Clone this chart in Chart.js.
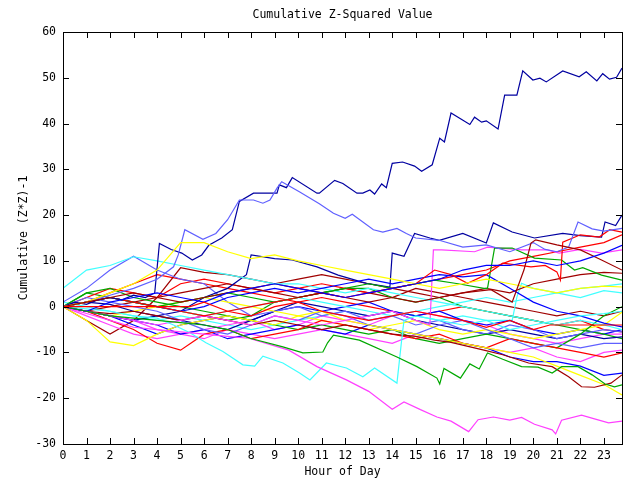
<!DOCTYPE html>
<html>
<head>
<meta charset="utf-8">
<script src="https://cdn.jsdelivr.net/npm/chart.js@4.4.1/dist/chart.umd.min.js"></script>
<style>
  html, body { margin: 0; padding: 0; background: #fff; }
</style>
</head>
<body>
<canvas id="zChart" width="640" height="480"></canvas>
<script>
// Hour grid used by the plainer series
const HOURS = [0,1,2,3,4,5,6,7,8,9,10,11,12,13,14,15,16,17,18,19,20,21,22,23,23.77];

// Series read with their own hour stamps ([hour, value])
const navyPeak = [[0,0],[0.5,1],[1,0.5],[1.5,1.5],[2,2],[2.5,1.5],[3,2.5],[3.5,2],[3.9,3],[4.1,13.8],[4.6,12.5],[5.05,11.7],[5.5,10.2],[5.9,11.3],[6.2,13.4],[6.75,15],[7.2,16.8],[7.5,23],[8.1,24.8],[9.1,24.8],[9.2,26.6],[9.5,26],[9.75,28.2],[10.8,24.8],[10.9,24.8],[11.55,27.6],[11.9,26.9],[12.5,24.8],[12.75,24.8],[13.05,25.5],[13.25,24.6],[13.55,26.8],[13.75,26],[14.0,31.3],[14.44,31.6],[14.95,30.7],[15.25,29.6],[15.7,31],[16.02,36.8],[16.22,36],[16.5,42.3],[17.3,39.8],[17.5,41.4],[17.8,40.3],[18.0,40.6],[18.5,38.8],[18.78,46.2],[19.3,46.2],[19.55,51.5],[19.98,49.5],[20.28,49.9],[20.55,49.1],[21.25,51.5],[21.95,50.2],[22.25,51.3],[22.7,49.3],[22.95,50.9],[23.24,49.7],[23.54,50.1],[23.77,52.1]];
const slatePeak = [[0,0],[1,1],[2,2.5],[3,4],[4,6],[4.7,8.7],[4.9,11.3],[5.18,16.8],[5.95,14.7],[6.5,16],[7,19],[7.5,23.3],[8.1,23.3],[8.5,22.6],[8.8,23.3],[9.1,25.9],[9.3,27.3],[10.05,25.1],[10.9,22.5],[11.5,20.4],[12.0,19.3],[12.3,20.2],[13.2,16.8],[13.6,16.3],[14.2,17.1],[14.6,16],[15,15],[16,14.5],[17,13],[18,13.5],[19,12],[20,14],[20.5,12.5],[21,12],[21.5,13],[21.9,18.5],[22.5,17],[23,16.5],[23.77,17.1]];
const navyMid = [[0,0],[1,-1],[2,-2],[3,-3],[4,-2],[5,-1],[6,2],[7,4],[7.8,7],[8,11.3],[9,10.5],[9.75,10.2],[10.8,8.7],[11.7,6.9],[12.9,5.1],[13.9,4.3],[14,11.7],[14.5,11],[14.95,16],[15.6,15],[16,14.5],[17,16],[18,13.9],[18.3,18.3],[19.1,16.3],[20.05,15],[21.25,16],[22,15.5],[22.9,15.2],[23.05,18.5],[23.5,17.7],[23.77,20]];
const magentaLow = [[0,0],[1,-1.5],[2,-3],[3,-4.5],[4,-5],[5,-5.5],[6,-6],[7,-6.5],[7.9,-6.9],[9.6,-9.5],[10.8,-13.1],[12.05,-16],[13,-18.5],[14,-22.4],[14.5,-20.8],[15.2,-22.5],[15.9,-24.1],[16.5,-25],[17.25,-27.3],[17.65,-24.7],[18.3,-24.1],[19,-24.8],[19.5,-24.2],[20.05,-25.7],[20.8,-26.9],[20.95,-27.8],[21.2,-24.8],[22.05,-23.7],[22.6,-24.5],[23.2,-25.4],[23.77,-25]];
const magentaJump = [[0,0],[1,-1],[2,-2],[3,-3],[4,-4],[5,-3],[6,-2],[7,-3],[8,-4],[9,-2],[10,-3],[11,-4],[12,-3],[13,-2],[14,-1],[15,-3],[15.6,-4],[15.75,12.4],[16.1,12.4],[17.5,12],[18.05,13],[19.5,12.4],[20.6,12.4],[21.1,11.7],[22,12.5],[22.9,11.7],[23.77,12.4]];
const cyanLow = [[0,0],[1,-0.5],[2,-1],[3,-2],[4,-2.5],[4.7,-4],[5.4,-5.7],[6.08,-7.9],[6.8,-9.8],[7.65,-12.7],[8.15,-13],[8.5,-10.8],[9.35,-12.3],[10.06,-14.5],[10.5,-16],[11.2,-12.3],[12.05,-13.4],[12.75,-15.3],[13.25,-13.4],[14.2,-16.7],[14.4,-7.3],[14.5,-3],[15,-2],[16,-3],[17,-4],[18,-3],[19,-5],[20,-4],[21,-3],[22,-2],[23,-1.5],[23.77,-1]];
const cyanJump = [[0,1],[1,0],[2,-1],[3,-2],[4,-3],[5,-2],[6,-3],[7,-4],[8,-5],[9,-4],[10,-3],[11,-2],[12,-1],[13,-2],[14,-1],[15,-2],[16,-3],[17,-2],[18,-3],[19.1,-3],[19.3,2.1],[19.5,5.1],[20,4],[21,3],[22,2],[23,3.5],[23.77,3]];
const greenLow = [[0,0],[1,-1],[2,-2],[3,-2.5],[4,-3],[5,-3.5],[6,-4],[7,-5],[7.95,-6.9],[9.35,-8.8],[10.2,-10.1],[11.05,-9.9],[11.25,-7.9],[11.5,-6.2],[12.6,-7.3],[14.2,-11],[15.05,-13.1],[15.9,-15.6],[16.02,-16.9],[16.2,-13.5],[16.9,-15.6],[17.3,-12.5],[17.7,-13.6],[18.05,-10.1],[18.7,-11.5],[19.5,-13.1],[20.2,-13.2],[20.8,-14.5],[21.2,-13.1],[21.9,-13.1],[22.5,-14.9],[23.05,-16.9],[23.45,-17.5],[23.77,-17.1]];
const greenJump = [[0,0],[1,1],[2,2],[3,1],[4,0],[5,1],[6,2],[7,3],[8,2],[9,1],[10,2],[11,3],[12,4],[13,5],[14,4],[15,5],[15.8,5.8],[16.8,5],[17.9,4],[18.05,4],[18.35,12.8],[19.1,12.8],[20.05,10.6],[21.2,10.2],[21.75,8],[22.1,8.5],[22.9,6.9],[23.77,5.8]];
const redFlat = [[0,0],[5.4,0],[6,1],[7,-1],[8,-2],[9,0],[10,1],[11,-1],[12,-2],[13,-3],[14,-2],[15,-1],[16,-2],[17,-3],[18,-4.5],[19,-3],[20,-5],[20.7,-4],[23.77,-4]];
const redJump = [[0,0],[1,1],[2,2],[3,1],[4,0],[5,-1],[6,-2],[7,-1],[8,0],[9,1],[10,2],[11,3],[12,2],[13,3],[14,4],[15,5],[15.8,8],[16.5,7],[17.2,5.1],[18,7],[18.7,9.5],[19.9,8.7],[20.5,9],[21.0,7.6],[21.15,5.8],[21.25,14.1],[22.0,15.7],[22.8,15.2],[23.25,16.8],[23.77,16.3]];
const darkJump = [[0,0],[1,1],[2,2],[3,3],[4,2],[5,1],[6,2],[7,3],[8,4],[9,3],[10,2],[11,3],[12,2],[13,1],[14,2],[15,1],[16,2],[17,3],[18.2,3.7],[19.1,1],[19.6,8],[19.9,13.9],[20.1,14.6],[21,13.5],[22,12.4],[22.9,10.2],[23.77,8]];
const darkLow = [[0,0],[1,-1],[2,-1.5],[3,-1],[4,-2],[5,-3],[6,-2],[7,-3],[8,-4],[9,-3],[10,-4],[11,-5],[12,-4],[13,-5],[14,-6],[15,-6.5],[15.8,-7.3],[16.5,-7.8],[17.9,-9.5],[18.7,-10.5],[19.8,-12.3],[20.8,-13.1],[21.5,-15.3],[22.05,-17.5],[22.6,-17.6],[23.3,-16.7],[23.77,-14.9]];

// Series read on the hour grid
const navyLow   = [0,1,0.5,-1,-2,-3,-4,-5,-3,-1,1,0,-1,-2,-1,-3,-4,-5,-6,-5,-6,-7,-6,-7,-6.6];
const blueA     = [0,-1,1,2,3,2,1,3,4,5,4,3,2,3,4,5,6,8,9,9,10,9,10,11.7,13.4];
const blueB     = [0,1,2,1,0,-1,0,2,3,4,3,4,5,6,5,6,7,6.5,7,4,1,-1,-2,-3.6,-4.4];
const blueC     = [0,-1,-2,-3,-4,-6,-5,-7,-6,-5,-4,-5,-6,-4,-5,-6,-7,-8,-9,-11,-12,-12,-13,-15,-14.5];
const blueD     = [0,-1,-2,-4,-6,-4,-3,-2,-3,-1,0,-1,0,1,-1,-2,-1,-3,-4,-3,-5,-6,-5,-6,-5];
const slateB    = [0,2,1,0,-1,-3,-5,-6,-4,-2,-3,-1,-2,-4,-5,-6,-4,-3,-5,-7,-9,-8,-9,-8,-8];
const slateC    = [1,4,8,11,8,6,5,1,-2,-1,0,-2,-1,-3,-2,-4,-3,-5,-6,-4,-5,-7,-6,-5,-5.5];
const magentaC  = [0,-1,-2,-3,-5,-6,-7,-5,-6,-7,-6,-5,-6,-7,-8,-6,-7,-8,-9,-10,-9,-11,-12,-10,-9.5];
const magentaD  = [0,-2,-4,-6,-7,-6,-5,-4,-3,-5,-4,-2,-3,-4,-2,-1,-2,-3,-4,-6,-7,-8,-7,-6,-6];
const cyanB     = [4,8,9,10.9,10,9,8,7,6,5,5,4,3,4,3,2,1,0,-1,-2,-3,-4,-3,-4,-5];
const cyanC     = [0,1,2,1,0,-1,-2,-1,0,1,2,1,0,-1,-2,-1,0,1,2,1,2,3,4,4.5,5];
const darkB     = [0,-1,0,1,2,3,4,5,4,5,6,7,6,5,4,3,2,3,4,3,5,6,7,7.5,7.3];
const darkD     = [0,-3,-6,-3,2,8.5,7.5,7,6,5,4,3,4,3,2,4,3,2,1,0,-1,-2,-1,-2,-1];
const redC      = [0,-1,-3,-5,-8,-9.5,-6,-5,-7,-6,-5,-3,-4,-5,-6,-7,-6,-8,-9,-7,-8,-9,-10,-11,-10.1];
const redD      = [0,2,4,3,2,5,6,5,4,3,4,5,4,3,4,5,6,7,8,10,11,12,13,14,15.7];
const redE      = [0,1,3,5,7,6,5,4,3,2,1,2,1,0,-1,-2,-1,0,-1,-2,-3,-4,-3,-5,-5.5];
const greenC    = [0,3,4,2,1,0,-1,-2,-3,-4,-5,-4,-5,-6,-5,-7,-8,-7,-6,-7,-8,-9,-6,-2,0];
const greenD    = [0,3,2,1,0,-1,-2,-3,-2,1,2,3,4,4,2,1,2,0,-1,-2,-3,-4,-5,-6,-7];
const yellowA   = [0,1,3,5,8,14,14,12,10.5,11.3,10,9,8,7,6,5,4,5,6,5,4,3,4,4.5,4.3];
const yellowB   = [0,-3,-7.7,-8.5,-6,-4,-3,-2,-3,-4,-2,-1,-3,-4,-5,-6,-7,-8,-9,-10,-11,-13,-15,-17,-19.3];
const yellowC   = [0,-1,-2,-1,0,1,2,1,0,-1,-2,-3,-4,-5,-4,-3,-5,-6,-5,-6,-7,-6,-5,-4,-1.2];

// gnuplot-ish line colours
const C = {
    red: '#ff0000', green: '#00a800', blue: '#0000ff', magenta: '#ff40ff',
    cyan: '#40ffff', dark: '#a00000', yellow: '#ffff00', slate: '#6060ff', navy: '#0000a0'
};

const pairs = arr => arr.map(p => ({ x: p[0], y: p[1] }));
const onGrid = vals => vals.map((v, i) => ({ x: HOURS[i], y: v }));

const lines = [
    [redFlat, C.red], [greenLow, C.green], [blueA, C.blue], [magentaLow, C.magenta], [cyanLow, C.cyan],
    [darkJump, C.dark], [yellowA, C.yellow], [slatePeak, C.slate], [navyPeak, C.navy],
    [redJump, C.red], [greenJump, C.green], [blueB, C.blue], [magentaJump, C.magenta], [cyanB, C.cyan],
    [darkLow, C.dark], [yellowB, C.yellow], [slateB, C.slate], [navyMid, C.navy],
    [redC, C.red], [greenC, C.green], [blueC, C.blue], [magentaC, C.magenta], [cyanC, C.cyan],
    [darkB, C.dark], [yellowC, C.yellow], [slateC, C.slate], [navyLow, C.navy],
    [redD, C.red], [greenD, C.green], [blueD, C.blue], [magentaD, C.magenta], [cyanJump, C.cyan],
    [darkD, C.dark], [redE, C.red]
];

const datasets = lines.map(([arr, color]) => ({
    data: Array.isArray(arr[0]) ? pairs(arr) : onGrid(arr),
    borderColor: color,
    borderWidth: 1.2,
    pointRadius: 0,
    tension: 0,
    fill: false
}));

const FONT = { family: "'DejaVu Sans Mono', monospace", size: 11.5 };
const TITLE = 'Cumulative Z-Squared Value';

// gnuplot style: frame, inward ticks on all four sides, title centred over the plot
const frameTicks = {
    id: 'frameTicks',
    afterDraw(chart) {
        const { ctx, chartArea: a, scales: { x, y } } = chart;
        ctx.save();
        ctx.strokeStyle = '#000';
        ctx.lineWidth = 1;
        ctx.beginPath();
        x.ticks.forEach(t => {
            const px = Math.round(x.getPixelForValue(t.value)) + 0.5;
            ctx.moveTo(px, a.bottom); ctx.lineTo(px, a.bottom - 6);
            ctx.moveTo(px, a.top); ctx.lineTo(px, a.top + 6);
        });
        y.ticks.forEach(t => {
            const py = Math.round(y.getPixelForValue(t.value)) + 0.5;
            ctx.moveTo(a.left, py); ctx.lineTo(a.left + 6, py);
            ctx.moveTo(a.right, py); ctx.lineTo(a.right - 6, py);
        });
        ctx.stroke();
        ctx.strokeRect(Math.round(a.left) + 0.5, Math.round(a.top) + 0.5,
            Math.round(a.right - a.left), Math.round(a.bottom - a.top));

        ctx.fillStyle = '#000';
        ctx.font = FONT.size + 'px ' + FONT.family;
        ctx.textAlign = 'center';
        ctx.textBaseline = 'middle';
        ctx.fillText(TITLE, (a.left + a.right) / 2, 15);
        ctx.restore();
    }
};

new Chart(document.getElementById('zChart').getContext('2d'), {
    type: 'scatter',
    data: { datasets: datasets },
    options: {
        responsive: false,
        animation: false,
        showLine: true,
        layout: { padding: { left: 0, right: 18, top: 32, bottom: 0 } },
        plugins: {
            legend: { display: false },
            tooltip: { enabled: false },
            title: { display: false }
        },
        scales: {
            x: {
                type: 'linear',
                min: 0,
                max: 23.77,
                afterFit: s => { s.height = 36; },
                grid: { display: false, drawTicks: false },
                border: { display: false },
                ticks: { stepSize: 1, includeBounds: false, color: '#000', font: FONT, padding: 5, maxRotation: 0 },
                title: { display: true, text: 'Hour of Day', color: '#000', font: FONT, padding: { top: 0, bottom: 1.5 } }
            },
            y: {
                min: -30,
                max: 60,
                afterFit: s => { s.width = 63; },
                grid: { display: false, drawTicks: false },
                border: { display: false },
                ticks: { stepSize: 10, color: '#000', font: FONT, padding: 7 },
                title: { display: true, text: 'Cumulative (Z*Z)-1', color: '#000', font: FONT, padding: { top: 17, bottom: 0 } }
            }
        }
    },
    plugins: [frameTicks]
});
</script>
</body>
</html>
